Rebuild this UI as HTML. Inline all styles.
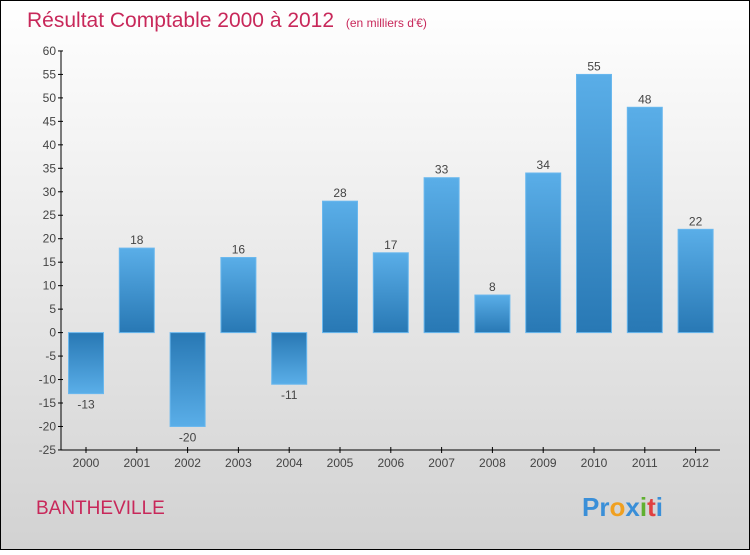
<!DOCTYPE html>
<html><head><meta charset="utf-8"><style>
body{margin:0;}
svg text{font-family:"Liberation Sans",sans-serif;}
</style></head><body>
<svg id="c" width="750" height="550" xmlns="http://www.w3.org/2000/svg">
<defs>
<linearGradient id="bg" x1="0" y1="0" x2="0" y2="1"><stop offset="0" stop-color="#ffffff"/><stop offset="1" stop-color="#d2d2d2"/></linearGradient>
<linearGradient id="gp" x1="0" y1="0" x2="0" y2="1"><stop offset="0" stop-color="#5aaee8"/><stop offset="1" stop-color="#2878b4"/></linearGradient>
<linearGradient id="gn" x1="0" y1="0" x2="0" y2="1"><stop offset="0" stop-color="#2878b4"/><stop offset="1" stop-color="#5aaee8"/></linearGradient>
</defs>
<rect x="0.5" y="0.5" width="749" height="549" fill="url(#bg)" stroke="#000"/>
<text x="27" y="27" font-size="21" fill="#c8285a">Résultat Comptable 2000 à 2012 <tspan font-size="12" dx="6">(en milliers d'€)</tspan></text>
<text x="36" y="514" font-size="19" fill="#c8285a">BANTHEVILLE</text>
<text x="582" y="516" font-size="26" font-weight="bold"><tspan fill="#3a8fd8">Pr</tspan><tspan fill="#f0a020">o</tspan><tspan fill="#3a8fd8">x</tspan><tspan fill="#60b030">i</tspan><tspan fill="#e04040">t</tspan><tspan fill="#3a8fd8">i</tspan></text>
<g id="axes"></g>
<g id="bars"></g>
</svg>
<script>
const years=["2000","2001","2002","2003","2004","2005","2006","2007","2008","2009","2010","2011","2012"];
const values=[-13,18,-20,16,-11,28,17,33,8,34,55,48,22];
const yTicks=[-25,-20,-15,-10,-5,0,5,10,15,20,25,30,35,40,45,50,55,60];
const NS="http://www.w3.org/2000/svg";
const y=v=>332.6-(v)*(399/85);
const x=i=>86+i*50.8;
function mk(t,a,p){const e=document.createElementNS(NS,t);for(const k in a)e.setAttribute(k,a[k]);p.appendChild(e);return e;}
const ax=document.getElementById('axes'),bg=document.getElementById('bars');
const yl=mk('line',{x1:61,y1:51,x2:61,y2:450,stroke:'#000','stroke-width':1},ax);


const xl=mk('line',{x1:61,y1:450,x2:720,y2:450,stroke:'#000','stroke-width':1},ax);


yTicks.forEach(v=>{
 mk('line',{x1:58,y1:y(v),x2:63,y2:y(v),stroke:'#000'},ax);
 const t=mk('text',{x:56,y:y(v)+4,'font-size':12,fill:'#444','text-anchor':'end'},ax);t.textContent=v;
 
 
});
years.forEach((yr,i)=>{
 mk('line',{x1:x(i),y1:447,x2:x(i),y2:453,stroke:'#000'},ax);
 const t=mk('text',{x:x(i),y:467,'font-size':12,fill:'#444','text-anchor':'middle'},ax);t.textContent=yr;
 
 
 const v=values[i];const top=Math.min(y(v),y(0)),h=Math.abs(y(v)-y(0));
 const r=mk('rect',{x:x(i)-17.5,y:top,width:35,height:h,fill:v>=0?'url(#gp)':'url(#gn)',stroke:'#6ab8ee','stroke-width':1},bg);
 
 
 const l=mk('text',{x:x(i),y:v>=0?y(v)-4:y(v)+15,'font-size':12,fill:'#444','text-anchor':'middle'},bg);l.textContent=v;
 
 
});
</script>
</body></html>
